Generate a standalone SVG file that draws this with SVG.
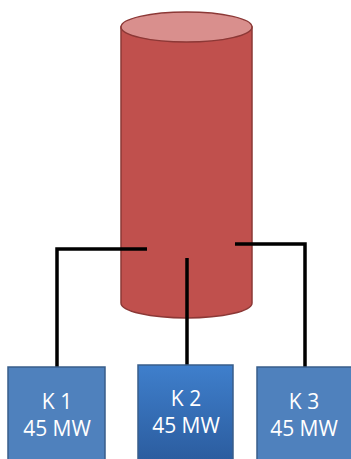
<svg xmlns="http://www.w3.org/2000/svg" width="351" height="459" viewBox="0 0 351 459">
<defs>
<linearGradient id="g2" x1="0" y1="0" x2="0" y2="1">
<stop offset="0" stop-color="#3F7FCC"/>
<stop offset="1" stop-color="#2B5C9E"/>
</linearGradient>
<style>
.box{fill:#4F81BD;stroke:#385D8A;stroke-width:1.5}
.lbl{font-family:"Open Sans","Liberation Sans",sans-serif;font-size:21px;fill:#FFFFFF;text-anchor:middle}
.con{fill:none;stroke:#000;stroke-width:3.5}
</style>
</defs>
<rect width="351" height="459" fill="#FFFFFF"/>
<g id="tank">
<path d="M121,27 L121,303 A65.5,15 0 0 0 252,303 L252,27 Z" fill="#C0504D" stroke="#8C3836" stroke-width="1.5"/>
<ellipse cx="186.5" cy="27" rx="65.5" ry="15" fill="#D98F8D" stroke="#8C3836" stroke-width="1.5"/>
</g>
<g id="connectors">
<polyline class="con" points="147,249 57,249 57,368"/>
<polyline class="con" points="187,258 187,366"/>
<polyline class="con" points="235,244 305,244 305,368"/>
</g>
<g id="k1">
<rect class="box" x="8" y="367" width="97" height="95"/>
<text class="lbl" x="57" y="409">K 1</text>
<text class="lbl" x="57" y="436">45 MW</text>
</g>
<g id="k2">
<rect x="138" y="365" width="95" height="97" fill="url(#g2)" stroke="#385D8A" stroke-width="1.5"/>
<text class="lbl" x="186" y="406">K 2</text>
<text class="lbl" x="186" y="433">45 MW</text>
</g>
<g id="k3">
<rect class="box" x="257" y="367" width="95" height="95"/>
<text class="lbl" x="304" y="409">K 3</text>
<text class="lbl" x="304" y="436">45 MW</text>
</g>
</svg>
